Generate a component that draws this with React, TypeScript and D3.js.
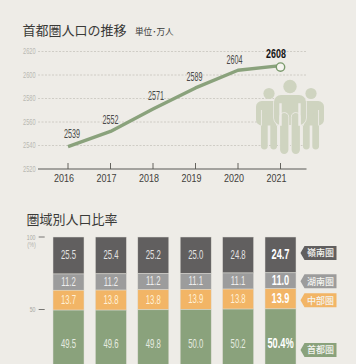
import React from "react";
import * as d3 from "d3";

const years = ["2016", "2017", "2018", "2019", "2020", "2021"];
const population = [2539, 2552, 2571, 2589, 2604, 2608];
const yTicks = [2520, 2540, 2560, 2580, 2600, 2620];
const capital = [49.5, 49.6, 49.8, 50.0, 50.2, 50.4];
const chubu = [13.7, 13.8, 13.8, 13.9, 13.8, 13.9];
const honam = [11.2, 11.2, 11.2, 11.1, 11.1, 11.0];
const yeongnam = [25.5, 25.4, 25.2, 25.0, 24.8, 24.7];
const shareTicks = [100, 50];
const regionNames = ["首都圏", "中部圏", "湖南圏", "嶺南圏"];
const regionColors = ["#8aa27c", "#f2b566", "#9c9c9c", "#615f5f"];
const regionText = ["#e6ebe0", "#fff1d8", "#eeeeee", "#e2e2e2"];

const labelDx = [4, 0, 3, -1, -3.5, -4.5];
const labelDy = [8.7, 7.4, 9, 7.4, 6.8, 7.5];
const tagCy = [350, 300.3, 281.3, 253];

const W = 356, H = 364;
const sans = "'Liberation Sans', Arial, sans-serif";
const cjk = "'Noto Sans CJK JP', sans-serif";
const bg = "#eeece7";

function Nt({ x, y, sx, anchor = "middle", children, ...rest }: any) {
  return (
    <text transform={`translate(${x},${y}) scale(${sx},1)`} textAnchor={anchor} fontFamily={sans} {...rest}>
      {children}
    </text>
  );
}

function Person({ cx, top, w, legBottom, armBottom, headR, headY }: any) {
  const legW = w * 0.26;
  const gap = w * 0.05;
  return (
    <g>
      <circle cx={cx} cy={headY} r={headR} />
      <rect x={cx - w / 2} y={top} width={w} height={armBottom - top} rx={w * 0.22} />
      <rect x={cx - gap - legW} y={armBottom - 12} width={legW} height={legBottom - armBottom + 12} rx={legW / 2} />
      <rect x={cx + gap} y={armBottom - 12} width={legW} height={legBottom - armBottom + 12} rx={legW / 2} />
      <rect x={cx - w * 0.31} y={top + 9} width={0.9} height={armBottom - top - 9} fill={bg} />
      <rect x={cx + w * 0.31 - 0.9} y={top + 9} width={0.9} height={armBottom - top - 9} fill={bg} />
    </g>
  );
}

export default function App() {
  const x = d3.scalePoint<string>().domain(years).range([68, 280.5]);
  const y = d3.scaleLinear().domain([2520, 2620]).range([169, 51.5]);
  const line = d3.line<number>().x((_, i) => x(years[i])!).y((d) => y(d));

  const bx = d3.scalePoint<string>().domain(years).range([68.5, 280.5]);
  const by = d3.scaleLinear().domain([100, 50]).range([237, 309.5]);
  const barW = 31;

  const stacks = years.map((_, i) => {
    const vals = [yeongnam[i], honam[i], chubu[i], capital[i]];
    const idx = [3, 2, 1, 0];
    let top = 100;
    return vals.map((v, j) => {
      const s = { k: idx[j], top, bot: top - v, v };
      top -= v;
      return s;
    });
  });

  return (
    <svg width={W} height={H} viewBox={`0 0 ${W} ${H}`} style={{ position: "absolute", left: 0, top: 0 }}>
      <rect width={W} height={H} fill={bg} />
      <text x={22.5} y={35} fontFamily={cjk} fontSize={13} fill="#3a3a38">首都圏人口の推移</text>
      <text x={135} y={35} fontFamily={cjk} fontSize={8.6} fill="#3a3a38">単位･万人</text>

      {yTicks.map((t) => (
        <g key={t}>
          <Nt x={23} y={y(t) + 2.8} sx={0.68} anchor="start" fontSize={8.3} fill="#b8b8b2">{t}</Nt>
          {t !== 2520 && (
            <line x1={38} x2={306} y1={y(t)} y2={y(t)} stroke="#c6c5be" strokeWidth={0.8} strokeDasharray="2 1.5" />
          )}
        </g>
      ))}

      <g fill="#cfd4c0">
        <Person cx={269} top={101} w={26} legBottom={149.5} armBottom={125.5} headR={5.6} headY={93.5} />
        <Person cx={311} top={101} w={26} legBottom={149.5} armBottom={125.5} headR={5.6} headY={93.5} />
        <g stroke={bg} strokeWidth={1.5} paintOrder="stroke">
          <Person cx={290} top={95} w={32} legBottom={154} armBottom={125} headR={6.7} headY={86.5} />
        </g>
      </g>

      <path d={line(population)!} fill="none" stroke="#8aa27c" strokeWidth={3.4} strokeLinejoin="round" />
      <circle cx={x("2021")} cy={y(2608) + 1.5} r={4.2} fill="#f5f4ef" stroke="#7a9a6c" strokeWidth={1.4} />

      <line x1={38} x2={306.5} y1={169} y2={169} stroke="#8a8a86" strokeWidth={1.3} />
      {years.map((yr, i) => (
        <g key={yr}>
          <line x1={x(yr)} x2={x(yr)} y1={163} y2={169} stroke="#55554f" strokeWidth={0.9} />
          <Nt x={x(yr)! - 4} y={181.7} sx={0.78} fontSize={11.5} fill="#3f3f3c">{yr}</Nt>
          <Nt
            x={x(yr)! + labelDx[i]}
            y={y(population[i]) - labelDy[i]}
            sx={i === 5 ? 0.66 : 0.6}
            fontSize={i === 5 ? 13.5 : 12}
            fontWeight={i === 5 ? 700 : 400}
            fill={i === 5 ? "#151515" : "#4a4a47"}
          >
            {population[i]}
          </Nt>
        </g>
      ))}

      <text x={26.5} y={223.5} fontFamily={cjk} fontSize={13} fill="#3a3a38">圏域別人口比率</text>

      {shareTicks.map((t) => (
        <g key={t}>
          <Nt x={35.5} y={by(t) + 2.5} sx={0.65} anchor="end" fontSize={8} fill="#a8a8a2">{t}</Nt>
          <line x1={38.7} x2={44.7} y1={by(t)} y2={by(t)} stroke="#6a6a66" strokeWidth={0.9} />
        </g>
      ))}
      <Nt x={31.5} y={247.3} sx={0.8} fontSize={7} fill="#b4b4ae">(%)</Nt>

      {years.map((yr, i) => (
        <g key={yr}>
          {stacks[i].map((s) => {
            const yt = by(s.top), yb = by(s.bot);
            const ty = s.k === 0 ? 347.6 : (yt + yb) / 2 + 3.8;
            const last = i === 5;
            return (
              <g key={s.k}>
                <rect x={bx(yr)! - barW / 2} y={yt} width={barW} height={yb - yt} fill={regionColors[s.k]} stroke="#dddcd5" strokeWidth={0.5} />
                <Nt
                  x={bx(yr)!}
                  y={ty}
                  sx={last ? 0.66 : 0.62}
                  fontSize={last ? 14 : 12.5}
                  fontWeight={last ? 700 : 400}
                  fill={last ? "#ffffff" : regionText[s.k]}
                >
                  {s.v.toFixed(1)}{last && s.k === 0 ? "%" : ""}
                </Nt>
              </g>
            );
          })}
        </g>
      ))}

      {regionNames.map((name, k) => {
        const cy = tagCy[k];
        return (
          <g key={name}>
            <path d={`M300.5 ${cy}L304.5 ${cy - 7}H336.5V${cy + 7}H304.5Z`} fill={regionColors[k]} />
            <text x={320.5} y={cy + 3.2} textAnchor="middle" fontFamily={cjk} fontSize={9} fontWeight={500} fill="#f4f4f0">{name}</text>
          </g>
        );
      })}
    </svg>
  );
}
